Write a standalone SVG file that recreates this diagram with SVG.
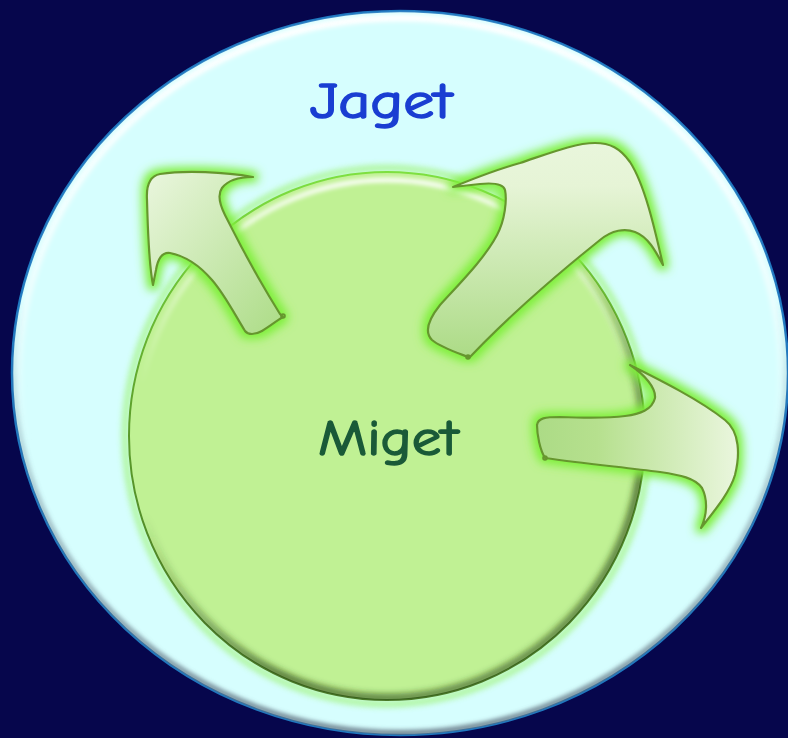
<svg xmlns="http://www.w3.org/2000/svg" width="788" height="738" viewBox="0 0 788 738">
<defs>
<style>
.arrow{stroke:#66962e;stroke-width:2.2;stroke-linejoin:round;filter:url(#glow)}
.tail{fill:none;stroke:#66962e;stroke-width:2}
.lbl{font-family:"Comic Sans MS","Comic Neue","DejaVu Sans",sans-serif;font-size:50px;stroke-width:1.6;stroke-linejoin:round}
</style>
<filter id="glow" x="-25%" y="-25%" width="150%" height="150%">
<feMorphology in="SourceAlpha" operator="dilate" radius="4" result="d"/>
<feGaussianBlur in="d" stdDeviation="5" result="b"/>
<feFlood flood-color="#7ef03a" flood-opacity="1"/>
<feComposite in2="b" operator="in" result="g"/>
<feMerge><feMergeNode in="g"/><feMergeNode in="SourceGraphic"/></feMerge>
</filter>
<filter id="blur3" x="-5%" y="-5%" width="110%" height="110%"><feGaussianBlur stdDeviation="3"/></filter>
<filter id="blur2" x="-5%" y="-5%" width="110%" height="110%"><feGaussianBlur stdDeviation="2"/></filter>
<linearGradient id="ga1" x1="0" y1="0" x2="1" y2="1">
<stop offset="0" stop-color="#eaf6de"/><stop offset="1" stop-color="#acdc86"/>
</linearGradient>
<linearGradient id="ga2" x1="0" y1="0" x2="0" y2="1">
<stop offset="0" stop-color="#e9f6dc"/><stop offset="0.2" stop-color="#e6f4d6"/><stop offset="1" stop-color="#acdb86"/>
</linearGradient>
<linearGradient id="ga3" x1="0" y1="0" x2="1" y2="0">
<stop offset="0" stop-color="#acdb86"/><stop offset="0.3" stop-color="#b6e08e"/><stop offset="1" stop-color="#eaf6de"/>
</linearGradient>
<linearGradient id="hiOuter" x1="0" y1="0" x2="0" y2="1">
<stop offset="0" stop-color="#ffffff" stop-opacity="1"/><stop offset="0.35" stop-color="#ffffff" stop-opacity="0.6"/><stop offset="0.6" stop-color="#ffffff" stop-opacity="0"/>
</linearGradient>
<linearGradient id="shOuter" x1="0" y1="0" x2="0" y2="1">
<stop offset="0.4" stop-color="#5a6a7a" stop-opacity="0"/><stop offset="1" stop-color="#5a6a7a" stop-opacity="0.8"/>
</linearGradient>
<linearGradient id="hiInner" x1="0" y1="0" x2="0" y2="1">
<stop offset="0" stop-color="#ffffff" stop-opacity="0.95"/><stop offset="0.25" stop-color="#ffffff" stop-opacity="0.3"/><stop offset="0.4" stop-color="#ffffff" stop-opacity="0"/>
</linearGradient>
<linearGradient id="shInner" x1="0.2" y1="0" x2="0.8" y2="1">
<stop offset="0.4" stop-color="#2c4a14" stop-opacity="0"/><stop offset="0.75" stop-color="#2c4a14" stop-opacity="0.75"/><stop offset="1" stop-color="#2c4a14" stop-opacity="0.6"/>
</linearGradient>
<linearGradient id="rimInner" x1="0" y1="0" x2="0" y2="1">
<stop offset="0" stop-color="#7ee040"/><stop offset="0.5" stop-color="#5a9a2a"/><stop offset="1" stop-color="#4a7a28"/>
</linearGradient>
<clipPath id="clipOuter"><ellipse cx="400" cy="373" rx="388" ry="362"/></clipPath>
<clipPath id="clipInner"><ellipse cx="387" cy="436" rx="258" ry="264"/></clipPath>
</defs>
<rect x="0" y="0" width="788" height="738" fill="#06064c"/>
<g id="jaget">
<ellipse cx="400" cy="373" rx="388" ry="362" fill="#d6fefe" stroke="#1f78c0" stroke-width="2.5"/>
<g clip-path="url(#clipOuter)">
<ellipse cx="400" cy="373" rx="381" ry="355" fill="none" stroke="url(#hiOuter)" stroke-width="7" filter="url(#blur2)"/>
<ellipse cx="400" cy="373" rx="386" ry="360" fill="none" stroke="url(#shOuter)" stroke-width="6" filter="url(#blur2)"/>
</g>
<text class="lbl" x="381" y="118" text-anchor="middle" fill="#1a3ed2" stroke="#1a3ed2" textLength="142" lengthAdjust="spacingAndGlyphs">Jaget</text>
</g>
<g id="miget">
<ellipse cx="387" cy="436" rx="262" ry="268" fill="none" stroke="#8ef04a" stroke-width="5" opacity="0.7" filter="url(#blur3)"/>
<ellipse cx="387" cy="436" rx="258" ry="264" fill="#c0f194" stroke="url(#rimInner)" stroke-width="2"/>
<g clip-path="url(#clipInner)">
<ellipse cx="387" cy="436" rx="250" ry="256" fill="none" stroke="url(#hiInner)" stroke-width="5" filter="url(#blur2)"/>
<ellipse cx="387" cy="436" rx="256" ry="262" fill="none" stroke="url(#shInner)" stroke-width="8" filter="url(#blur3)"/>
</g>
<text class="lbl" x="388" y="455" text-anchor="middle" fill="#1a5a38" stroke="#1a5a38" textLength="140" lengthAdjust="spacingAndGlyphs">Miget</text>
</g>
<g id="connectors">
<g id="arrow-left">
<path class="arrow" fill="url(#ga1)" d="M 283 317 C 279 319, 272 325, 262 331 C 255 335, 248 335, 245 331 C 235 315, 225 295, 212 280 C 200 266, 185 256, 170 253 C 162 252, 158 258, 156 270 L 153 285 C 150 270, 148 240, 147 200 C 146 185, 150 176, 160 174 C 185 170, 225 172, 253 177 C 240 177, 228 180, 222 188 C 217 195, 220 205, 225 215 C 240 245, 265 290, 280 314 Z"/>
<circle class="tail" cx="283" cy="316" r="1.8"/>
</g>
<g id="arrow-top">
<path class="arrow" fill="url(#ga2)" d="M 468 357 C 455 352, 440 347, 432 340 C 424 332, 428 320, 440 305 C 460 283, 485 258, 497 235 C 505 220, 507 200, 505 190 C 503 183, 490 183, 480 184 L 453 187 C 470 180, 495 170, 520 163 C 550 153, 575 143, 595 143 C 610 143, 620 148, 630 162 C 645 185, 655 230, 663 265 C 655 250, 648 237, 635 232 C 625 228, 612 230, 600 240 C 560 272, 510 315, 470 357 Z"/>
<circle class="tail" cx="468" cy="357" r="1.8"/>
</g>
<g id="arrow-right">
<path class="arrow" fill="url(#ga3)" d="M 545 458 C 540 450, 537 435, 537 425 C 538 418, 545 417, 560 417 C 585 418, 610 418, 625 416 C 640 414, 652 410, 655 398 C 656 388, 645 375, 630 365 C 660 380, 700 400, 725 420 C 740 432, 740 455, 735 475 C 730 492, 715 510, 701 528 C 707 515, 708 500, 702 488 C 695 478, 680 475, 660 472 C 620 467, 580 463, 545 458 Z"/>
<circle class="tail" cx="545" cy="458" r="1.8"/>
</g>
</g>
</svg>
